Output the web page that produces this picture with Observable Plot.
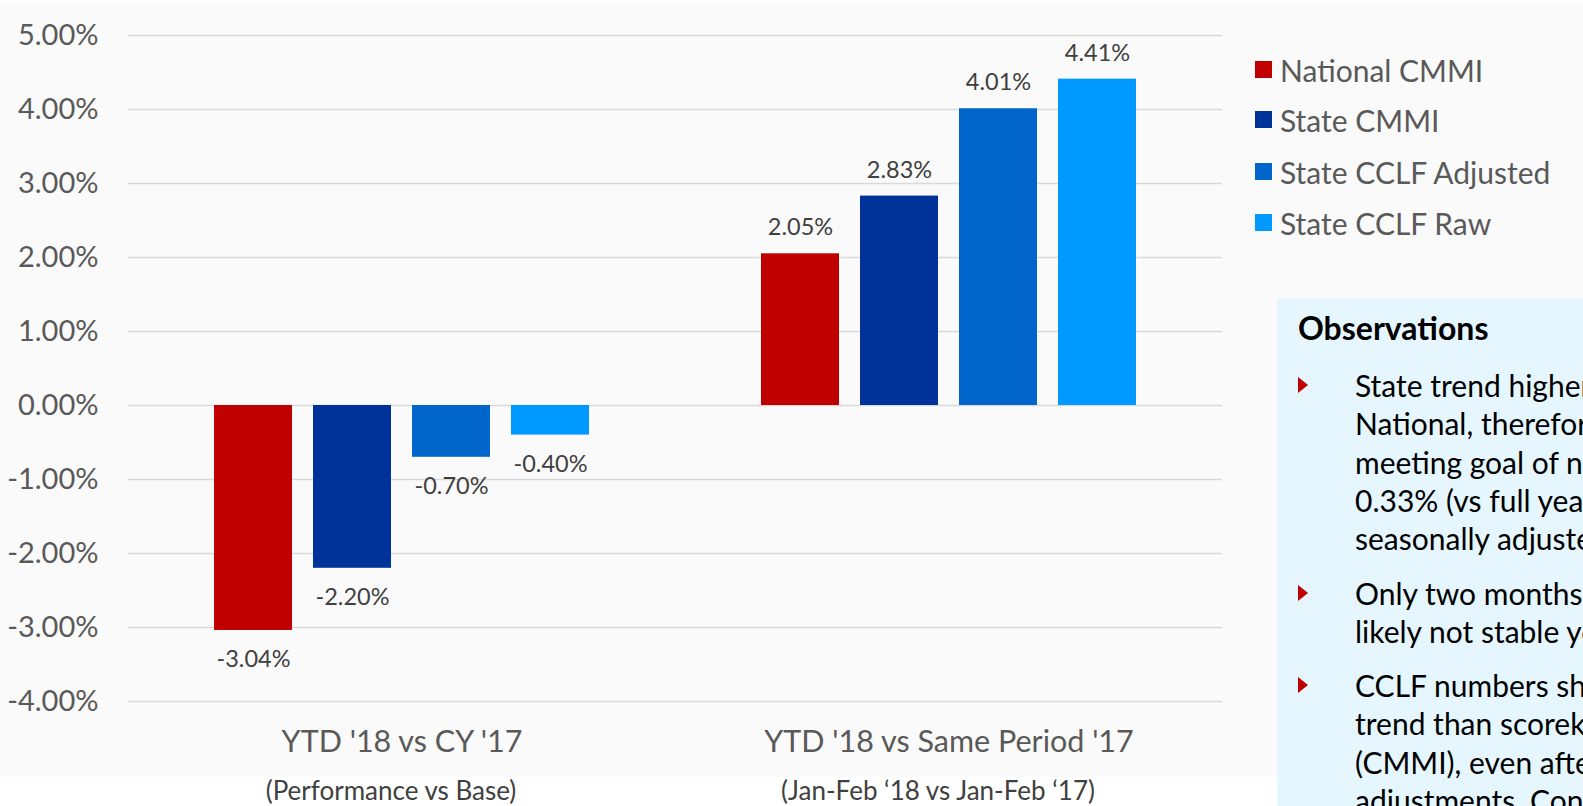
<!DOCTYPE html>
<html>
<head>
<meta charset="utf-8">
<script src="https://cdn.jsdelivr.net/npm/d3@7"></script>
<script src="https://cdn.jsdelivr.net/npm/@observablehq/plot@0.6"></script>
<style>
  html, body { margin: 0; padding: 0; background: #ffffff; }
  body { width: 1583px; height: 806px; position: relative; overflow: hidden; font-family: Lato, "Open Sans", sans-serif; }
  #bg { position: absolute; left: 0; top: 3px; width: 1583px; height: 774px; background: #fafafa; }
  #chart { position: absolute; left: 0; top: 0; }
  #legend { position: absolute; left: 1255px; top: 0; }
  .lg { position: absolute; left: 0; white-space: nowrap; font-size: 30px; color: #595959; line-height: 30px; }
  .lg span.sw { position: absolute; left: 0; top: 6px; width: 17px; height: 17px; }
  .lg span.t { position: absolute; left: 25px; top: 0; }
  #obs { position: absolute; left: 1277px; top: 298px; width: 306px; height: 508px; background: #e6f6fe; overflow: hidden; }
  .ob { position: absolute; white-space: nowrap; font-size: 30px; line-height: 30px; color: #000; }
  .tri { position: absolute; width: 0; height: 0; border-top: 8px solid transparent; border-bottom: 8px solid transparent; border-left: 10px solid #c00000; }
</style>
</head>
<body>
<div id="bg"></div>
<div id="chart"></div>
<div id="legend"></div>
<div id="obs"></div>
<script>
const groups = ["YTD '18 vs CY '17", "YTD '18 vs Same Period '17"];
const subtitles = ["(Performance vs Base)", "(Jan-Feb \u201818 vs Jan-Feb \u201817)"];
const series = ["National CMMI", "State CMMI", "State CCLF Adjusted", "State CCLF Raw"];
const colors = ["#c00000", "#003399", "#0066cc", "#0099ff"];
const ytdVsCY = [-3.04, -2.20, -0.70, -0.40];
const ytdVsSamePeriod = [2.05, 2.83, 4.01, 4.41];
const yTicks = [-4, -3, -2, -1, 0, 1, 2, 3, 4, 5];
const obsTitle = "Observations";
const obsBullets = [
  ["State trend higher than", "National, therefore not", "meeting goal of national", "0.33% (vs full year", "seasonally adjusted)"],
  ["Only two months of data,", "likely not stable yet"],
  ["CCLF numbers show higher", "trend than scorekeeper", "(CMMI), even after", "adjustments.  Continue"]
];

const valuesByGroup = [ytdVsCY, ytdVsSamePeriod];
const data = [];
groups.forEach((g, gi) => series.forEach((s, si) => data.push({group: g, series: s, value: valuesByGroup[gi][si]})));
const catData = groups.map((g, i) => ({group: g, label: g, sub: subtitles[i]}));
const fmt = d => d.toFixed(2) + "%";

const plot = Plot.plot({
  width: 1240,
  height: 806,
  marginLeft: 127,
  marginRight: 18,
  marginTop: 35,
  marginBottom: 105,
  style: {fontFamily: "Lato, 'Open Sans', sans-serif", background: "transparent", overflow: "visible"},
  fx: {domain: groups, padding: 0, axis: null},
  x: {domain: series, paddingInner: 0.2145, paddingOuter: 0.864, axis: null},
  y: {domain: [-4, 5], axis: null},
  color: {domain: series, range: colors},
  marks: [
    Plot.gridY(yTicks, {stroke: "#d9d9d9", strokeOpacity: 1, strokeWidth: 1.3}),
    Plot.axisY(yTicks, {tickSize: 0, tickPadding: 30, tickFormat: fmt, fontSize: 29, fill: "#595959", label: null}),
    Plot.barY(data, {fx: "group", x: "series", y: "value", fill: "series"}),
    Plot.text(data.filter(d => d.value >= 0), {fx: "group", x: "series", y: "value", text: d => fmt(d.value), dy: -26, fontSize: 23.5, fill: "#404040", lineAnchor: "middle"}),
    Plot.text(data.filter(d => d.value < 0), {fx: "group", x: "series", y: "value", text: d => fmt(d.value), dy: 29, fontSize: 23.5, fill: "#404040", lineAnchor: "middle"}),
    Plot.text(catData, {fx: "group", text: "label", frameAnchor: "bottom", dy: 41, fontSize: 30.5, fill: "#595959", lineAnchor: "middle"}),
    Plot.text(catData, {fx: "group", text: "sub", frameAnchor: "bottom", dx: -11, dy: 90, fontSize: 26, fill: "#404040", lineAnchor: "middle"})
  ]
});
document.getElementById("chart").appendChild(plot);

// Legend
const legend = document.getElementById("legend");
const legendY = [70, 120, 172, 223];
series.forEach((s, i) => {
  const row = document.createElement("div");
  row.className = "lg";
  row.style.top = (legendY[i] - 15) + "px";
  row.innerHTML = `<span class="sw" style="background:${colors[i]}"></span><span class="t">${s}</span>`;
  legend.appendChild(row);
});

// Observations box
const obs = document.getElementById("obs");
const ox = 1277, oy = 298;
const title = document.createElement("div");
title.className = "ob";
title.style.left = (1298 - ox) + "px";
title.style.top = (328 - 16 - oy) + "px";
title.style.fontWeight = "bold";
title.style.fontSize = "32px";
title.style.lineHeight = "32px";
title.textContent = obsTitle;
obs.appendChild(title);
const bulletStarts = [385, 593, 685];
obsBullets.forEach((lines, bi) => {
  const tri = document.createElement("div");
  tri.className = "tri";
  tri.style.left = (1298 - ox) + "px";
  tri.style.top = (bulletStarts[bi] - 8 - oy) + "px";
  obs.appendChild(tri);
  lines.forEach((ln, li) => {
    const d = document.createElement("div");
    d.className = "ob";
    d.style.left = (1355 - ox) + "px";
    d.style.top = (bulletStarts[bi] + li * 38.3 - 15 - oy) + "px";
    d.textContent = ln;
    obs.appendChild(d);
  });
});
</script>
</body>
</html>
